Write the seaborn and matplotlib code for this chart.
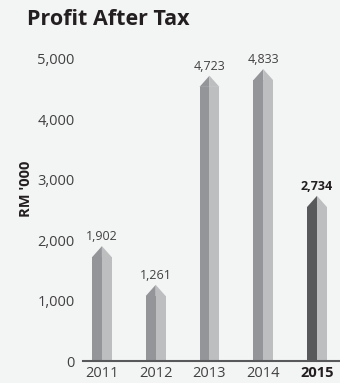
import matplotlib
matplotlib.use("Agg")
import matplotlib.pyplot as plt
from matplotlib.patches import Polygon
import seaborn as sns
import pandas as pd

years = ["2011", "2012", "2013", "2014", "2015"]
profit = [1902, 1261, 4723, 4833, 2734]
value_labels = ["1,902", "1,261", "4,723", "4,833", "2,734"]
y_ticks = [0, 1000, 2000, 3000, 4000, 5000]
y_tick_labels = ["0", "1,000", "2,000", "3,000", "4,000", "5,000"]

BG = "#f3f4f4"
DARK = "#939598"
LIGHT = "#bcbec0"
HIGHLIGHT = "#58595b"
TEXT = "#414042"

sns.set_theme(style="white")
plt.rcParams["font.family"] = ["Open Sans", "DejaVu Sans"]

fig = plt.figure(figsize=(3.4, 3.83), dpi=100, facecolor=BG)
ax = fig.add_axes([0.244, 0.0574, 0.756, 0.7886])
ax.set_facecolor(BG)

bar_w = 0.37
half = bar_w / 2
tip = 185  # height of the pointed cap, in data units

# Bar bodies (up to the shoulder), split into a shaded and a lit half
shoulder = [v - tip for v in profit]
df = pd.DataFrame({
    "year": years * 2,
    "height": shoulder * 2,
    "side": ["left"] * len(years) + ["right"] * len(years),
})
sns.barplot(data=df, x="year", y="height", hue="side", order=years,
            hue_order=["left", "right"], palette=[DARK, LIGHT],
            width=bar_w, gap=0, dodge=True, saturation=1, legend=False,
            linewidth=0, ax=ax)

for p in ax.patches:
    p.set_edgecolor("none")
# highlight the latest year
n = len(years)
ax.patches[n - 1].set_facecolor(HIGHLIGHT)

# Pointed caps and value labels
for i, (v, s) in enumerate(zip(profit, shoulder)):
    lc = HIGHLIGHT if i == n - 1 else DARK
    ax.add_patch(Polygon([(i - half, s), (i, v), (i, s)], closed=True,
                         facecolor=lc, edgecolor="none"))
    ax.add_patch(Polygon([(i, s), (i, v), (i + half, s)], closed=True,
                         facecolor=LIGHT, edgecolor="none"))
    ax.annotate(value_labels[i], (i, v), xytext=(0, 2),
                textcoords="offset points", ha="center", va="bottom",
                fontsize=9, color=TEXT if i < n - 1 else "#231f20",
                fontweight="bold" if i == n - 1 else "normal",
                annotation_clip=False)

ax.set_xlim(-0.353, 4.428)
ax.set_ylim(0, 5000)
ax.set_yticks(y_ticks)
ax.set_yticklabels(y_tick_labels, fontsize=10.5, color=TEXT)
ax.set_xticks(range(n))
ax.set_xticklabels(years, fontsize=10.5, color=TEXT)
ax.get_xticklabels()[-1].set_fontweight("bold")
ax.get_xticklabels()[-1].set_color("#231f20")
ax.tick_params(axis="y", length=0, pad=6)
ax.tick_params(axis="x", length=0, pad=3.5)
ax.set_xlabel("")
ax.set_ylabel("")

for side in ["top", "right", "left"]:
    ax.spines[side].set_visible(False)
ax.spines["bottom"].set_color(HIGHLIGHT)
ax.spines["bottom"].set_linewidth(1.5)

fig.text(0.079, 0.949, "Profit After Tax", fontsize=15.5, fontweight="bold",
         color="#231f20", ha="left", va="center")
fig.text(0.076, 0.506, "RM '000", fontsize=10.5, fontweight="bold",
         color="#231f20", rotation=90, ha="center", va="center")

fig.savefig("out.png", dpi=100, facecolor=BG)
